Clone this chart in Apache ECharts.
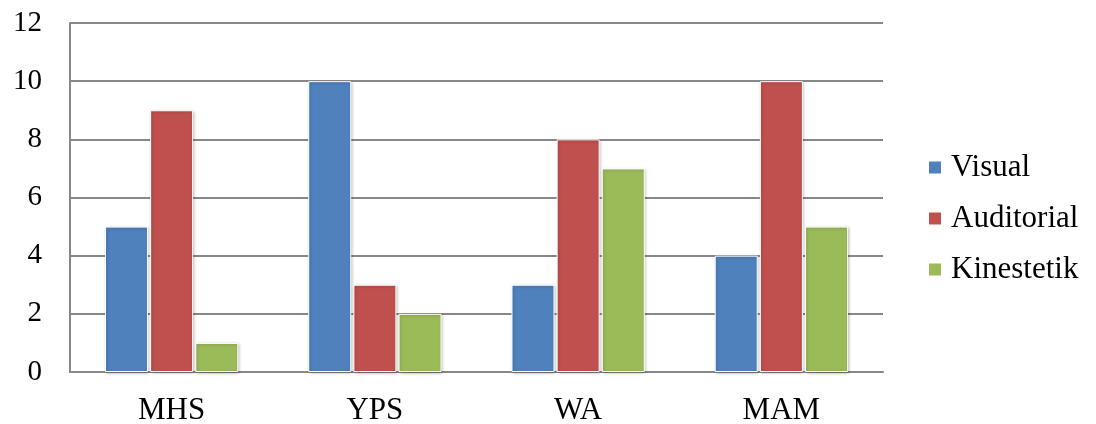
<!DOCTYPE html>
<html>
<head>
<meta charset="utf-8">
<script src="https://cdn.jsdelivr.net/npm/echarts@6/dist/echarts.min.js"></script>
<style>
  html, body { margin: 0; padding: 0; background: #fff; }
  #chart { width: 1096px; height: 424px; }
</style>
</head>
<body>
<div id="chart"></div>
<script>
var categories = ['MHS', 'YPS', 'WA', 'MAM'];
var visual = [5, 10, 3, 4];
var auditorial = [9, 3, 8, 10];
var kinestetik = [1, 2, 7, 5];
var yTicks = {min: 0, max: 12, interval: 2};

var font = 'Liberation Serif';
var barStyle = function (c) {
    return {
        color: c,
        borderColor: '#fff',
        borderWidth: 1,
        shadowColor: 'rgba(0,0,0,0.25)',
        shadowBlur: 3,
        shadowOffsetX: 1,
        shadowOffsetY: 1
    };
};

var myChart = echarts.init(document.getElementById('chart'));
var option = {
    animation: false,
    grid: {left: 70, right: 213, top: 23, bottom: 52, outerBoundsMode: 'none'},
    legend: {
        orient: 'vertical',
        left: 927,
        top: 152,
        padding: 0,
        itemWidth: 14,
        itemHeight: 14,
        itemGap: 20,
        icon: 'rect',
        textStyle: {fontFamily: font, fontSize: 31, color: '#000', padding: [0, 0, 0, 4]},
        data: ['Visual', 'Auditorial', 'Kinestetik']
    },
    xAxis: {
        type: 'category',
        data: categories,
        axisLine: {lineStyle: {color: '#888', width: 2}},
        axisTick: {show: false},
        axisLabel: {fontFamily: font, fontSize: 31, color: '#000', margin: 23}
    },
    yAxis: {
        type: 'value',
        min: yTicks.min,
        max: yTicks.max,
        interval: yTicks.interval,
        axisLine: {show: true, lineStyle: {color: '#888', width: 2}},
        axisTick: {show: false},
        splitLine: {lineStyle: {color: '#888', width: 2}},
        axisLabel: {fontFamily: font, fontSize: 29, color: '#000', margin: 28}
    },
    series: [
        {name: 'Visual', type: 'bar', data: visual, barWidth: 43, barGap: '5%', itemStyle: barStyle('#4F81BD')},
        {name: 'Auditorial', type: 'bar', data: auditorial, barWidth: 43, barGap: '5%', itemStyle: barStyle('#C0504D')},
        {name: 'Kinestetik', type: 'bar', data: kinestetik, barWidth: 43, barGap: '5%', itemStyle: barStyle('#9BBB59')}
    ]
};
myChart.setOption(option);
</script>
</body>
</html>
